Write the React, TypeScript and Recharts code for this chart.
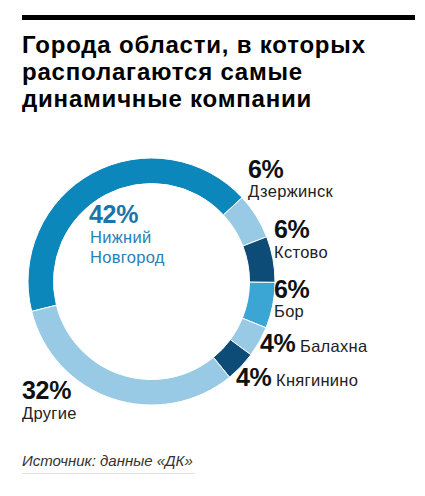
import React from "react";
import { PieChart, Pie, Cell } from "recharts";

const cities = ["Нижний Новгород", "Дзержинск", "Кстово", "Бор", "Балахна", "Княгинино", "Другие"];
const shares = [42, 6, 6, 6, 4, 4, 32];
const colors = ["#0c87bb", "#98c9e5", "#0d4c77", "#3ba5d3", "#98c9e5", "#0d4c77", "#98c9e5"];
const titleLines = ["Города области, в которых", "располагаются самые", "динамичные компании"];
const sourceText = "Источник: данные «ДК»";

const data = cities.map((name, i) => ({ name, value: shares[i] }));

// label layout (positions only)
type Lay = { x: number; y: number; nx: number; ny: number; pctColor: string; nameColor: string };
const layout: Lay[] = [
  { x: 89, y: 223, nx: 90, ny: 243, pctColor: "#1a75aa", nameColor: "#2a80b5" },
  { x: 248, y: 178, nx: 248, ny: 197, pctColor: "#111", nameColor: "#222" },
  { x: 274, y: 238, nx: 274, ny: 258, pctColor: "#111", nameColor: "#222" },
  { x: 274, y: 298, nx: 274, ny: 317, pctColor: "#111", nameColor: "#222" },
  { x: 260, y: 352, nx: 300, ny: 352, pctColor: "#111", nameColor: "#222" },
  { x: 236, y: 386, nx: 276, ny: 386, pctColor: "#111", nameColor: "#222" },
  { x: 22, y: 399, nx: 22, ny: 419, pctColor: "#111", nameColor: "#222" },
];

const sans = "'Liberation Sans', Arial, sans-serif";

export default function App() {
  return (
    <div style={{ position: "relative", width: 425, height: 496, margin: -8, background: "#fff" }}>
      <PieChart width={425} height={496} style={{ position: "absolute", left: 0, top: 0 }}>
        <Pie
          data={data}
          dataKey="value"
          nameKey="name"
          cx={146.5}
          cy={276.5}
          innerRadius={98}
          outerRadius={123.5}
          startAngle={194}
          endAngle={-166}
          stroke="#fff"
          strokeWidth={1}
          isAnimationActive={false}
        >
          {data.map((d, i) => (
            <Cell key={d.name} fill={colors[i]} />
          ))}
        </Pie>
      </PieChart>
      <svg width={425} height={496} style={{ position: "absolute", left: 0, top: 0 }}>
        <rect x={22} y={15} width={393} height={5} fill="#000" />
        {titleLines.map((t, i) => (
          <text key={i} x={22} y={53 + i * 27} fontFamily={sans} fontWeight="bold" fontSize={24} letterSpacing={0.8} fill="#000">
            {t}
          </text>
        ))}
        {data.map((d, i) => {
          const l = layout[i];
          const nameParts = i === 0 ? ["Нижний", "Новгород"] : [d.name];
          return (
            <g key={d.name}>
              <text x={l.x} y={l.y} fontFamily={sans} fontWeight="bold" fontSize={25} letterSpacing={-0.3} fill={l.pctColor}>
                {d.value}%
              </text>
              {nameParts.map((p, j) => (
                <text key={j} x={l.nx} y={l.ny + j * 20} fontFamily={sans} fontSize={16.5} letterSpacing={0.3} fill={l.nameColor}>
                  {p}
                </text>
              ))}
            </g>
          );
        })}
        <text x={22} y={466} fontFamily={sans} fontStyle="italic" fontSize={15} fill="#333">
          {sourceText}
        </text>
        <rect x={22} y={473} width={173} height={1} fill="#e2e2e2" />
      </svg>
    </div>
  );
}
